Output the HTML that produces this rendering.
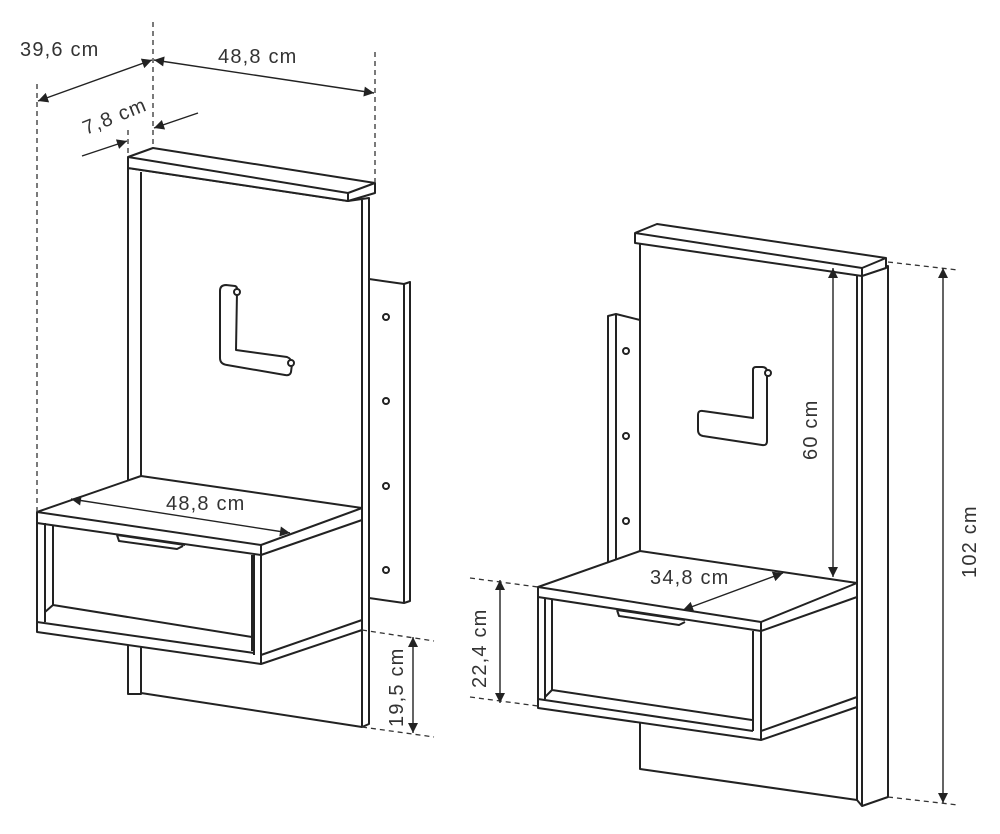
<!DOCTYPE html>
<html><head><meta charset="utf-8"><style>
html,body{margin:0;padding:0;background:#fff;}
svg{display:block}
text{font-family:"Liberation Sans",sans-serif;font-size:20px;fill:#333;letter-spacing:1.2px;}
</style></head><body>
<svg width="1000" height="834" viewBox="0 0 1000 834" xmlns="http://www.w3.org/2000/svg">
<defs>
<marker id="a" viewBox="0 0 10 10" refX="10" refY="5" markerWidth="14" markerHeight="10" markerUnits="userSpaceOnUse" orient="auto-start-reverse"><path d="M0,0L10,5L0,10z" fill="#222"/></marker>
</defs>
<g fill="none" stroke="#222" stroke-width="2" stroke-linejoin="round">
<!-- LEFT FIGURE -->
<!-- bracket -->
<path d="M369,279 L404,284 L410,282 L410,601 L404,603 L369,598"/>
<path d="M404,284 L404,603"/>
<circle cx="386" cy="317" r="3"/><circle cx="386" cy="401" r="3"/><circle cx="386" cy="486" r="3"/><circle cx="386" cy="570" r="3"/>
<!-- back panel -->
<path fill="#fff" d="M128,168 L128,694 L141,694 L141,693 L362,727 L369,724 L369,198 L348,201 Z"/>
<path d="M141,172 L141,694 M362,727 L362,200"/>
<!-- top shelf -->
<path fill="#fff" d="M128,157 L153,148 L375,183 L375,193 L348,201 L128,168 Z"/>
<path d="M128,157 L348,193 L375,183 M348,193 L348,201"/>
<!-- L hook -->
<path d="M220,291 Q220,285 226,285 L235,286 Q238,287 237,292 L236,350 L287,357 Q292,359 292,364 L291,372 Q290,376 285,375 L227,365 Q220,364 220,358 Z"/>
<circle cx="237" cy="292" r="3" fill="#fff"/><circle cx="291" cy="363" r="3" fill="#fff"/>
<!-- cabinet -->
<path fill="#fff" d="M37,512 L141,476 L362,508 L362,630 L261,664 L37,632 Z"/>
<path d="M37,512 L261,545 L362,508"/>
<path d="M37,523 L261,555 L362,520"/>
<path d="M261,545 L261,664 M261,655 L362,620"/>
<path d="M37,622 L254,653 M45,523 L45,622 M53,525 L53,605 L252,637 M53,605 L45,612"/>
<path d="M254,555 L254,655 M252,555 L252,651"/>
<path d="M117,535 L119,541 L177,549 L183,546 M117,535 L185,545"/>
<!-- RIGHT FIGURE -->
<!-- bracket -->
<path d="M640,320 L616,314 L608,316 L608,562"/>
<path d="M616,314 L616,560"/>
<circle cx="626" cy="351" r="3"/><circle cx="626" cy="436" r="3"/><circle cx="626" cy="521" r="3"/>
<path fill="#fff" d="M640,243 L640,769 L857,800 L857,275 Z"/>
<path fill="#fff" d="M857,275 L857,800 L862,806 L888,797 L888,266 Z"/>
<path d="M862,276 L862,806"/>
<path fill="#fff" d="M635,233 L657,224 L886,258 L886,268 L862,276 L635,243 Z"/>
<path d="M635,233 L862,268 L886,258 M862,268 L862,276"/>
<!-- L hook -->
<path d="M753,370 L753,418 L703,411 Q698,410 698,415 L698,430 Q698,435 703,436 L762,445 Q767,446 767,441 L767,372 Q767,367 762,367 L756,367 Q753,367 753,370 Z"/>
<circle cx="768" cy="373" r="3" fill="#fff"/>
<!-- cabinet -->
<path fill="#fff" d="M538,587 L640,551 L857,583 L857,707 L761,740 L538,708 Z"/>
<path d="M538,587 L761,622 L857,583"/>
<path d="M538,597 L761,631 L857,597"/>
<path d="M761,622 L761,740 M761,731 L857,697"/>
<path d="M538,699 L753,731 M545,598 L545,699 M552,600 L552,690 L752,720 M552,690 L545,697"/>
<path d="M753,631 L753,731"/>
<path d="M617,610 L619,616 L679,625 L685,622 M617,610 L685,620"/>
</g>
<!-- dimensions -->
<g fill="none" stroke="#333" stroke-width="1.3" stroke-dasharray="5,4">
<path d="M37,84 L37,512"/><path d="M153,22 L153,148"/><path d="M375,52 L375,183"/><path d="M128,130 L128,155"/>
<path d="M362,630 L434,641"/><path d="M362,727 L434,737"/>
<path d="M470,578 L538,587"/><path d="M470,697 L538,706"/>
<path d="M888,262 L958,270"/><path d="M888,797 L958,805"/>
</g>
<g fill="none" stroke="#222" stroke-width="1.4">
<path d="M38,101 L152,60" marker-start="url(#a)" marker-end="url(#a)"/>
<path d="M154,60 L374,93" marker-start="url(#a)" marker-end="url(#a)"/>
<path d="M82,156 L127,141" marker-end="url(#a)"/>
<path d="M198,113 L154,128" marker-end="url(#a)"/>
<path d="M71,499 L290,533" marker-start="url(#a)" marker-end="url(#a)"/>
<path d="M413,637 L413,733" marker-start="url(#a)" marker-end="url(#a)"/>
<path d="M500,580 L500,703" marker-start="url(#a)" marker-end="url(#a)"/>
<path d="M683,610 L783,573" marker-start="url(#a)" marker-end="url(#a)"/>
<path d="M833,268 L833,577" marker-start="url(#a)" marker-end="url(#a)"/>
<path d="M943,268 L943,803" marker-start="url(#a)" marker-end="url(#a)"/>
</g>
<text x="20" y="56">39,6 cm</text>
<text x="218" y="63">48,8 cm</text>
<text x="0" y="0" transform="translate(86,135) rotate(-22)">7,8 cm</text>
<text x="166" y="510">48,8 cm</text>
<text x="0" y="0" transform="translate(403,727) rotate(-90)">19,5 cm</text>
<text x="0" y="0" transform="translate(486,688) rotate(-90)">22,4 cm</text>
<text x="650" y="584">34,8 cm</text>
<text x="0" y="0" transform="translate(817,460) rotate(-90)">60 cm</text>
<text x="0" y="0" transform="translate(976,578) rotate(-90)">102 cm</text>
</svg>
</body></html>
